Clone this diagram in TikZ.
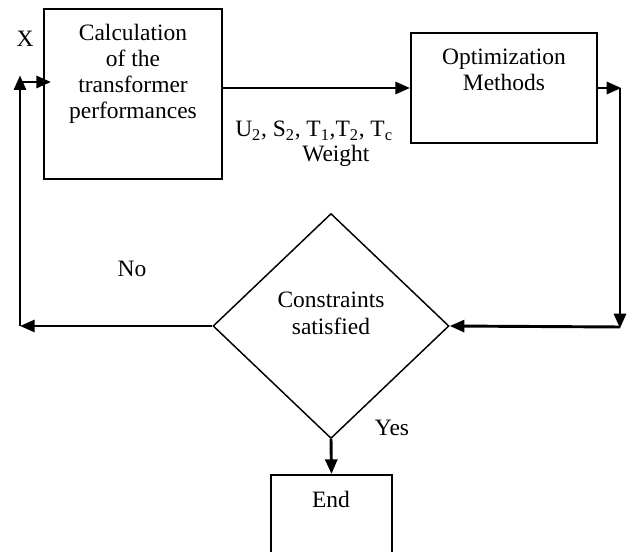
\documentclass[tikz,border=0pt]{standalone}
\usepackage{fontspec}
\setmainfont{Liberation Serif}
\usetikzlibrary{arrows.meta,shapes.geometric}
\begin{document}
\begin{tikzpicture}[x=0.75pt,y=-0.75pt,
  boxnode/.style={draw,line width=1.5pt,inner sep=0pt,rectangle},
  lbl/.style={inner sep=0pt,anchor=base,font=\fontsize{17.6}{19.5}\selectfont},
  flow/.style={line width=2.2pt,-{Triangle[length=11pt,width=9pt]}},
  plain/.style={line width=2.2pt}]
\useasboundingbox (0,0) rectangle (633,552);
% boxes
\node[boxnode,minimum width=133.5pt,minimum height=127.5pt] (calc) at (133,94) {};
\node[boxnode,minimum width=139.5pt,minimum height=82.5pt] (opt) at (504,88) {};
\node[draw,line width=1.1pt,shape=diamond,inner sep=0pt,minimum width=177pt,minimum height=168.75pt] (cons) at (331,326) {};
\node[boxnode,minimum width=90.75pt,minimum height=78.75pt] (endb) at (331.5,527.5) {};
% texts
\node[lbl] (t1) at (133,41) {Calculation};
\node[lbl] (t2) at (133,67) {of the};
\node[lbl] (t3) at (133,93) {transformer};
\node[lbl] (t4) at (133,119) {performances};
\node[lbl] (o1) at (504,65) {Optimization};
\node[lbl] (o2) at (504,91) {Methods};
\node[lbl] (c1t) at (331,308) {Constraints};
\node[lbl] (c2t) at (331,335) {satisfied};
\node[lbl] (et) at (331,508) {End};
\node[lbl] (xl) at (25,47) {X};
\node[lbl] (nol) at (132,277) {No};
\node[lbl] (yesl) at (392,436) {Yes};
\node[lbl,anchor=base west] (vars) at (235,137) {U\textsubscript{2}, S\textsubscript{2}, T\textsubscript{1},T\textsubscript{2}, T\textsubscript{c}};
\node[lbl,anchor=base west] (wl) at (302,162) {Weight};
% corner coordinates
\coordinate (r1) at (620,88);
\coordinate (r2) at (620,327);
\coordinate (l1) at (20,326);
\coordinate (l2) at (20,82);
% connectors
\draw[flow] (calc.east |- opt.west) -- (opt.west);
\draw[flow,shorten >=-1pt] (opt.east) -- (r1);
\draw[flow,shorten >=-1pt] (r1) -- (r2);
\draw[flow] (r2) -- (cons.east);
\draw[flow] (cons.west) -- (l1);
\draw[flow,shorten >=-5pt] (l1) -- (l2);
\draw[flow,shorten >=-6pt] (l2) -- (calc.west |- l2);
\draw[flow] (cons.south) -- (endb.north);
\end{tikzpicture}
\end{document}
